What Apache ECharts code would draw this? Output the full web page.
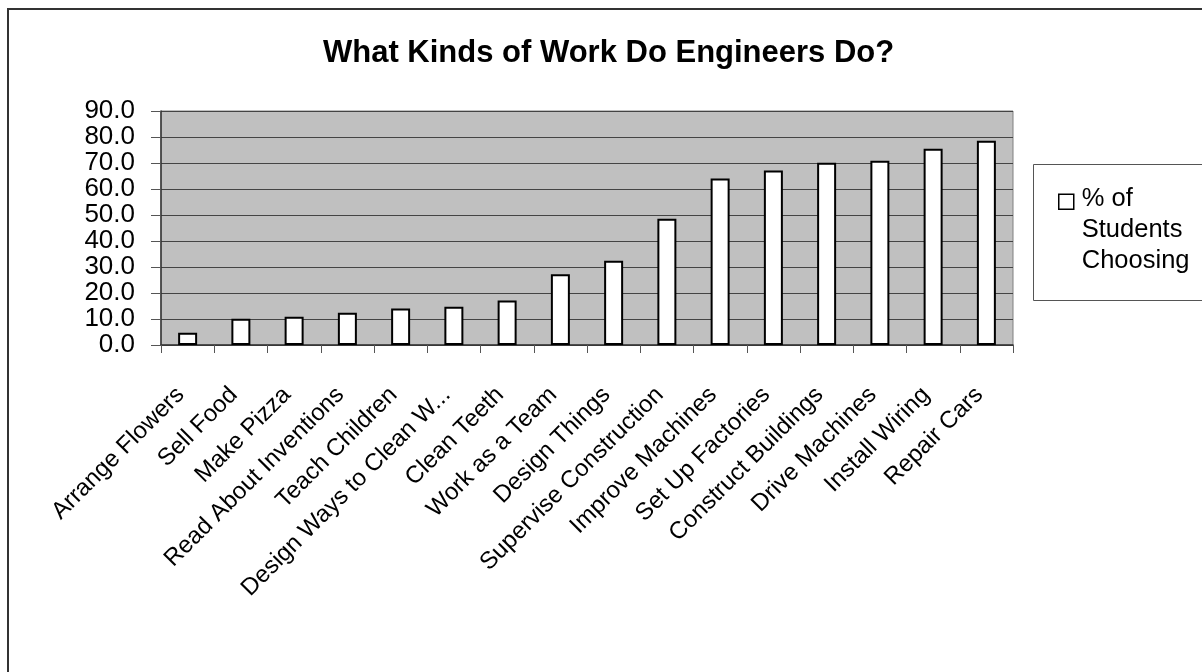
<!DOCTYPE html>
<html>
<head>
<meta charset="utf-8">
<script src="https://cdn.jsdelivr.net/npm/echarts@6/dist/echarts.min.js"></script>
<style>
html,body{margin:0;padding:0;background:#fff;}
#chart{width:1202px;height:672px;}
</style>
</head>
<body>
<div id="chart"></div>
<script>
const categories = ["Arrange Flowers","Sell Food","Make Pizza","Read About Inventions","Teach Children","Design Ways to Clean W...","Clean Teeth","Work as a Team","Design Things","Supervise Construction","Improve Machines","Set Up Factories","Construct Buildings","Drive Machines","Install Wiring","Repair Cars"];
const percentChoosing = [4.7,10.1,10.9,12.4,14.0,14.7,17.1,27.2,32.4,48.6,64.0,67.1,70.1,70.9,75.5,78.6];
const seriesName = "% of Students Choosing";
const legendLines = ["% of","Students","Choosing"];
const titleText = "What Kinds of Work Do Engineers Do?";

const font = "'Liberation Sans', Arial, sans-serif";
const chart = echarts.init(document.getElementById('chart'));
chart.setOption({
  animation: false,
  backgroundColor: '#fff',
  textStyle: {fontFamily: font, color: '#000'},
  title: {
    text: titleText, left: 323, top: 38, padding: 0,
    textStyle: {fontFamily: font, fontSize: 31, fontWeight: 'bold', color: '#000'}
  },
  graphic: [
    {type: 'rect', shape: {x: 8, y: 9, width: 1300, height: 700}, style: {fill: 'none', stroke: '#333', lineWidth: 2}, z: -1},
    {type: 'rect', shape: {x: 1033.5, y: 164.5, width: 300, height: 136}, style: {fill: '#fff', stroke: '#555', lineWidth: 1}, z: 0}
  ],
  legend: {
    left: 1058, top: 183, padding: 0,
    itemWidth: 18, itemHeight: 93, itemGap: 0,
    icon: 'path://M0,10.5 L15,10.5 L15,25.5 L0,25.5 Z M0,0 L0,0 M18,93 L18,93',
    itemStyle: {color: '#fff', borderColor: '#000', borderWidth: 1.5},
    formatter: () => legendLines.join('\n'),
    textStyle: {fontFamily: font, fontSize: 25.5, lineHeight: 31, color: '#000'},
    z: 5
  },
  grid: {
    left: 161, right: 189, top: 111, bottom: 327,
    show: true, backgroundColor: '#C0C0C0', borderColor: '#808080', borderWidth: 1
  },
  xAxis: {
    type: 'category', data: categories, boundaryGap: true,
    axisLine: {show: true, lineStyle: {color: '#333', width: 1.5}},
    axisTick: {show: true, length: 8, alignWithLabel: false, interval: 0, lineStyle: {color: '#555'}},
    axisLabel: {interval: 0, rotate: 45, fontSize: 24, color: '#000', fontFamily: font, margin: 39, padding: [0, 10, 0, 0]}
  },
  yAxis: {
    type: 'value', min: 0, max: 90, interval: 10,
    axisLine: {show: true, lineStyle: {color: '#333', width: 1.5}},
    axisTick: {show: true, length: 10, lineStyle: {color: '#555'}},
    axisLabel: {fontSize: 26, color: '#000', fontFamily: font, margin: 26, formatter: v => v.toFixed(1)},
    splitLine: {show: true, lineStyle: {color: '#444', width: 1}}
  },
  series: [{
    name: seriesName, type: 'bar', data: percentChoosing, barWidth: 19,
    itemStyle: {color: '#fff', borderColor: '#000', borderWidth: 2}
  }]
});
</script>
</body>
</html>
